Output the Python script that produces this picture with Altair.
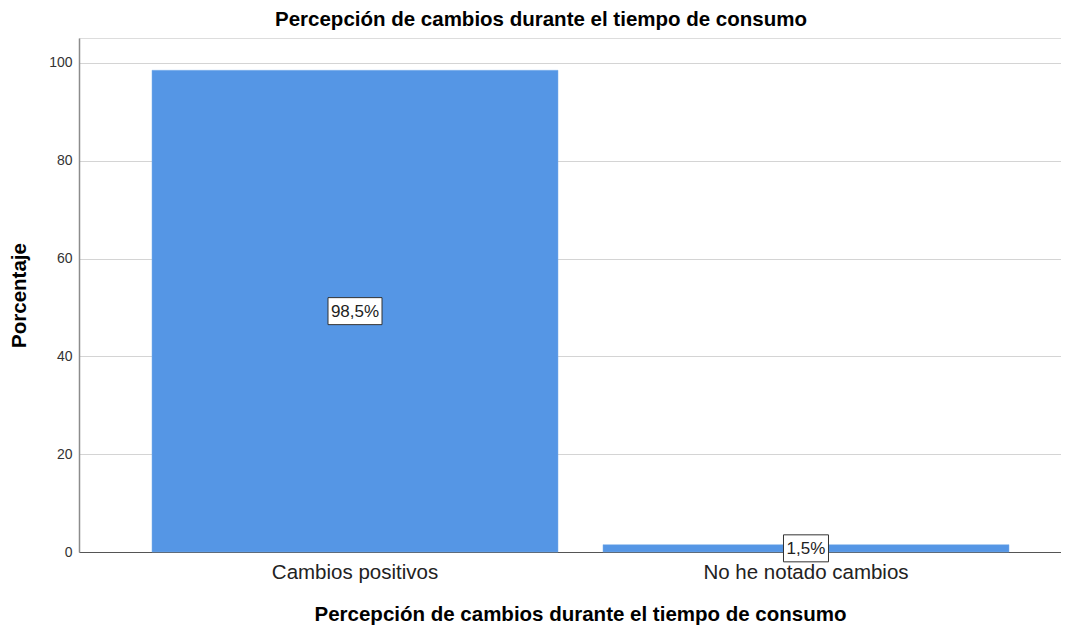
import altair as alt
import pandas as pd

categories = ["Cambios positivos", "No he notado cambios"]
percentages = [98.5, 1.5]
labels = ["98,5%", "1,5%"]
y_ticks = [0, 20, 40, 60, 80, 100]

df = pd.DataFrame({"cat": categories, "pct": percentages, "lab": labels})
df["mid"] = df["pct"] / 2

FONT = "Liberation Sans"
TITLE = "Percepción de cambios durante el tiempo de consumo"

x_scale = alt.Scale(domain=categories, paddingInner=0.0998, paddingOuter=0.1386, align=0.584)
y_scale = alt.Scale(domain=[0, 105.1], nice=False, zero=True)

x_enc = alt.X(
    "cat:N",
    scale=x_scale,
    sort=categories,
    axis=alt.Axis(
        title=TITLE,
        labelAngle=0,
        labelFont=FONT,
        labelFontSize=20.5,
        labelColor="#222222",
        labelPadding=10,
        labelLimit=400,
        ticks=False,
        domainColor="#555555",
        domainWidth=1,
        titleFont=FONT,
        titleFontSize=20.5,
        titleFontWeight="bold",
        titleColor="#000000",
        titleBaseline="alphabetic",
        titleX=501,
        titleY=68,
        titleAlign="center",
    ),
)

y_enc = alt.Y(
    "pct:Q",
    scale=y_scale,
    axis=alt.Axis(
        title="Porcentaje",
        values=y_ticks,
        labelFont=FONT,
        labelFontSize=14,
        labelColor="#333333",
        labelPadding=7,
        ticks=False,
        domainColor="#8c8c8c",
        domainWidth=1.5,
        grid=True,
        gridColor="#d4d4d4",
        gridWidth=1,
        titleFont=FONT,
        titleFontSize=20.5,
        titleFontWeight="bold",
        titleColor="#000000",
        titleBaseline="alphabetic",
        titleX=-54,
        titleAngle=270,
    ),
)

base = alt.Chart(df)

bars = base.mark_bar(color="#5596e5", stroke="#7aaeea", strokeWidth=0.5).encode(x=x_enc, y=y_enc)

box1 = base.transform_filter(alt.datum.cat == categories[0]).mark_point(
    shape="M-1,-0.5 L1,-0.5 L1,0.5 L-1,0.5 Z",
    size=2916,
    filled=True,
    fill="white",
    stroke="#333333",
    strokeWidth=1,
    opacity=1,
).encode(x=alt.X("cat:N", scale=x_scale, sort=categories), y=alt.Y("mid:Q", scale=y_scale))

box2 = base.transform_filter(alt.datum.cat == categories[1]).mark_point(
    shape="M-1,-0.6 L1,-0.6 L1,0.6 L-1,0.6 Z",
    size=2025,
    filled=True,
    fill="white",
    stroke="#333333",
    strokeWidth=1,
    opacity=1,
).encode(x=alt.X("cat:N", scale=x_scale, sort=categories), y=alt.Y("mid:Q", scale=y_scale))

texts = base.mark_text(font=FONT, fontSize=17, color="#222222", baseline="middle", align="center", dy=1).encode(
    x=alt.X("cat:N", scale=x_scale, sort=categories),
    y=alt.Y("mid:Q", scale=y_scale),
    text="lab:N",
)

chart = (
    alt.layer(bars, box1, box2, texts)
    .properties(
        width=982,
        height=514,
        title=alt.TitleParams(
            TITLE,
            font=FONT,
            fontSize=20.5,
            fontWeight="bold",
            color="#000000",
            anchor="middle",
            baseline="alphabetic",
            offset=11,
            dx=-29,
            dy=19,
        ),
        autosize=alt.AutoSizeParams(type="none"),
        padding={"left": 71, "top": 30, "right": 0, "bottom": 76},
    )
    .configure_view(stroke=None)
    .configure(background="white")
)

chart.save("out.html", embed_options={"renderer": "svg", "actions": False})
